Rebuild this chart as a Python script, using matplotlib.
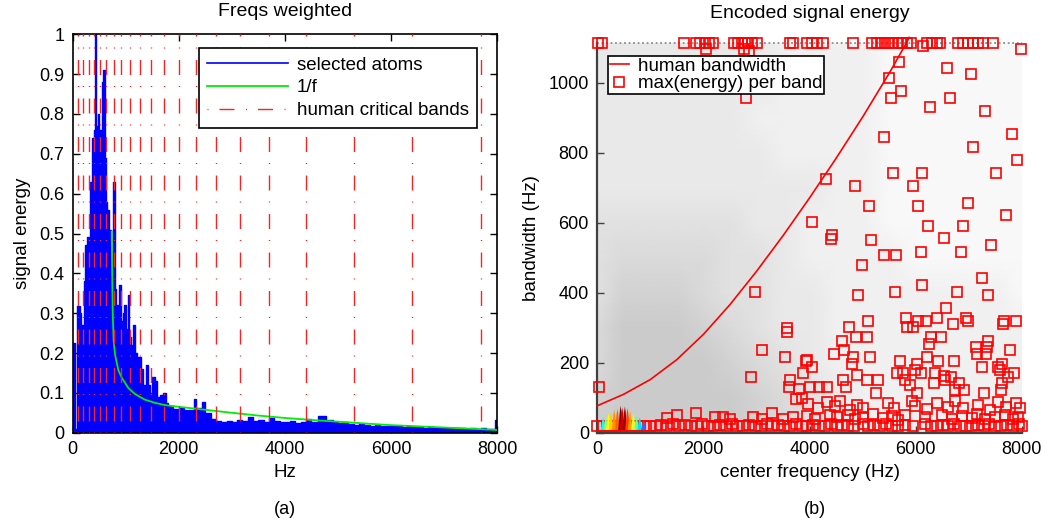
import matplotlib
matplotlib.use("Agg")
import matplotlib.pyplot as plt
from matplotlib.lines import Line2D

plt.rcParams['font.family'] = ['Liberation Sans', 'DejaVu Sans']
plt.rcParams['font.size'] = 13.5

# ---- left panel data: weighted frequency spectrum ----
spec_hz = [0, 35, 90, 130, 160, 205, 230, 270, 305, 330, 370, 405, 425, 445, 470,
           505, 545, 570, 600, 630, 655, 690, 725, 755, 790, 820, 855, 880, 905,
           940, 970, 1000, 1035, 1060, 1100, 1140, 1175, 1210, 1240, 1280, 1320,
           1380, 1420, 1460, 1500, 1550, 1590, 1640, 1700, 1750, 1800, 1900,
           2000, 2100, 2200, 2280, 2320, 2430, 2490, 2600, 2700, 2800, 2900, 3000,
           3100, 3200, 3300, 3400, 3500, 3600, 3700, 3800, 3900, 4000, 4100, 4200,
           4300, 4400, 4500, 4620, 4780, 4900, 5000, 5100, 5200, 5300, 5400, 5500,
           5600, 5700, 5800, 5900, 6000, 6100, 6200, 6300, 6400, 6500, 6600, 6700,
           6800, 6900, 7000, 7100, 7200, 7300, 7400, 7500, 7600, 7700, 7800, 7900,
           7970, 8000]
spec_val = [0.225, 0.01, 0.318, 0.30, 0.27, 0.38, 0.47, 0.49, 0.36, 0.63, 0.74, 0.76,
            1.0, 0.77, 0.80, 0.76, 0.88, 0.91, 0.69, 0.58, 0.56, 0.51, 0.43, 0.63,
            0.36, 0.32, 0.30, 0.37, 0.28, 0.30, 0.32, 0.26, 0.345, 0.24, 0.22, 0.27,
            0.20, 0.14, 0.19, 0.16, 0.12, 0.17, 0.12, 0.10, 0.14, 0.13, 0.09, 0.095,
            0.10, 0.075, 0.068, 0.06,
            0.062, 0.058, 0.056, 0.084, 0.062, 0.078, 0.05, 0.034, 0.03, 0.028, 0.03,
            0.027, 0.032, 0.03, 0.04, 0.03, 0.032, 0.028, 0.038, 0.03, 0.027, 0.026,
            0.03, 0.025, 0.028, 0.034, 0.028, 0.042, 0.033, 0.026, 0.024, 0.028,
            0.022, 0.02, 0.022, 0.02, 0.018, 0.02, 0.017, 0.018, 0.016, 0.018, 0.015,
            0.016, 0.014, 0.015, 0.013, 0.014, 0.012, 0.013, 0.012, 0.013, 0.011,
            0.012, 0.01, 0.011, 0.01, 0.011, 0.009, 0.01, 0.032, 0.032]

inv_f_hz = [735, 745, 755, 772, 800, 860, 925, 1050, 1175, 1360, 1550, 1750, 2000,
            2400, 3000, 3500, 4000, 4500, 5300, 6000, 7000, 8000]
inv_f_val = [0.505, 0.40, 0.30, 0.23, 0.195, 0.157, 0.138, 0.112, 0.097, 0.083, 0.075,
             0.069, 0.065, 0.059, 0.05, 0.043, 0.037, 0.032, 0.025, 0.019, 0.013, 0.007]

bark_edges = [100, 200, 300, 400, 510, 630, 770, 920, 1080, 1270, 1480, 1720, 2000,
              2320, 2700, 3150, 3700, 4400, 5300, 6400, 7700]

# ---- right panel data: encoded atoms ----
dens_f = [0, 500, 1000, 1500, 2000, 2500, 3000, 3500, 4000, 4500, 5000, 5500, 6000,
          6500, 7000, 7500, 8000]
dens_bw = [0, 100, 200, 300, 400, 500, 600, 700, 800, 900, 1000, 1114]
atom_density = [
    "77777765432222222",
    "67777765432222222",
    "57777654322222222",
    "57776543322222222",
    "46665443322222221",
    "45555443222211111",
    "44444433222111111",
    "33333333322111111",
    "33333332222111111",
    "33333322222111111",
    "33333332222111111",
    "33333332222111111",
]
top_atom_bw = 1114

hb_f = [0, 500, 1000, 1500, 2000, 2500, 3000, 3500, 4000, 4500, 5000, 5500, 5800, 5880]
hb_bw = [77, 110, 152, 209, 281, 366, 461, 563, 671, 784, 902, 1027, 1107, 1130]

top_sq_f = [19, 83, 1640, 1861, 1937, 2031, 2111, 2187, 2577, 2658, 2722, 2784, 2846,
            2911, 3005, 3632, 3695, 3947, 4041, 4136, 4260, 4826, 5172, 5267, 5348,
            5423, 5504, 5580, 5662, 5749, 5832, 5913, 6209, 6303, 6398, 6460, 6805,
            6899, 6993, 7088, 7182, 7276, 7465]

sq_f = [2050, 2765, 2866, 6145, 7987, 2803, 5693, 6597, 7038, 5504, 5719, 5531, 6648,
        6271, 7314, 7817, 5399, 7088, 7911, 5580, 6127, 7510, 4305, 4858, 5945, 5116,
        6040, 6988, 7704, 4041, 6240, 6899, 4418, 5159, 6535, 4405, 7421, 5410, 5631,
        6102, 6856, 4983, 7246, 6115, 4920, 5612, 6786, 7371, 6567, 5813, 5097, 6051,
        6190, 6409, 6950, 6993, 7660, 7887, 7647, 5844, 5957, 6711, 4739, 4877, 5078,
        6290, 6473, 4607, 7359, 6253, 7133, 4645, 7340, 7152, 7322, 7774, 4462, 4820,
        5135, 6209, 5712, 6428, 6724, 6020, 4795, 7246, 7623, 7559, 3947, 4041, 5989,
        6096, 5768, 5643, 4890, 6366, 6535, 6667, 7591, 7736, 7855, 5078, 5297, 4637,
        5800, 6353, 6554, 7623, 4688, 5894, 6824, 7610, 4009, 4179, 4324, 5254, 6020,
        6743, 6918, 7290, 2973, 3582, 3570, 3099, 3538, 2897, 38, 3934, 3884, 3632,
        3808, 3620, 3750, 3860]
sq_bw = [1096, 1097, 1090, 1106, 1098, 958, 1061, 1043, 1024, 1014, 977, 958, 958,
         930, 921, 854, 845, 817, 780, 742, 742, 742, 724, 705, 705, 649, 649, 658,
         621, 602, 592, 592, 565, 550, 558, 555, 536, 508, 508, 517, 517, 479, 441,
         422, 393, 403, 403, 393, 357, 329, 320, 320, 320, 329, 329, 319, 319, 320,
         310, 301, 301, 310, 301, 273, 273, 273, 273, 263, 263, 253, 244, 235, 244,
         226, 226, 235, 226, 216, 216, 216, 206, 206, 206, 197, 196, 188, 197, 188,
         207, 188, 179, 170, 170, 170, 165, 170, 163, 160, 179, 160, 170, 151, 151,
         151, 151, 141, 151, 141, 131, 136, 141, 122, 131, 131, 131, 113, 113, 122,
         122, 113, 403, 298, 289, 235, 216, 160, 131, 206, 170, 151, 125, 131, 95, 100]

low_sq_f = [3978, 4166, 4323, 4480, 4575, 4763, 4889, 5015, 5486, 5599, 5926, 5988,
            6208, 6397, 6617, 6742, 6899, 7182, 7402, 7559, 7704, 7886, 7967,
            3946, 4103, 4386, 4512, 4732, 4857, 5015, 5203, 5391, 5549, 5674, 5800,
            6177, 6491, 6679, 6868, 7056, 7151, 7308, 7496, 7685, 7842, 7936,
            1307, 1509, 1860, 2218, 2376, 2501, 2941, 3098, 3287, 3507, 3695]
low_sq_bw = [82, 70, 88, 75, 92, 66, 80, 72, 86, 70, 90, 76, 68, 84, 74, 92, 70, 80,
             66, 88, 74, 84, 70,
             48, 40, 52, 44, 50, 38, 46, 54, 42, 48, 36, 50, 44, 52, 40, 48, 42, 54,
             38, 46, 50, 40, 46,
             41, 50, 57, 45, 45, 40, 45, 40, 57, 40, 45]

floor_f = [0, 110, 220, 330, 440, 550, 660, 770, 880, 990, 1100, 1210, 1320, 1430,
           1540, 1650, 1760, 1870, 1980, 2090, 2200, 2310, 2420, 2530, 2640, 2750,
           2860, 2970, 3080, 3190, 3300, 3410, 3520, 3630, 3740, 3850, 3960, 4070,
           4180, 4290, 4400, 4510, 4620, 4730, 4840, 5000, 5110, 5220, 5330, 5440,
           5550, 5660, 5800, 5950, 6180, 6290, 6400, 6510, 6620, 6730, 6840, 6950,
           7060, 7170, 7280, 7390, 7500, 7610, 7720, 7830, 7940, 8000]
floor_bw = [19, 19, 19, 19, 19, 19, 19, 19, 19, 19, 19, 22, 19, 25, 19, 22, 19, 19,
            24, 19, 19, 22, 19, 24, 19, 19, 22, 19, 19, 24, 19, 22, 19, 19, 24, 20,
            19, 22, 19, 19, 24, 19, 22, 19, 19, 26, 19, 22, 19, 24, 19, 19, 22, 19,
            24, 19, 19, 22, 19, 24, 19, 20, 19, 22, 19, 24, 19, 19, 22, 19, 24, 19]

blob_f = [110, 160, 210, 260, 320, 380, 440, 470, 520, 570, 620, 680, 740, 800, 870]
blob_bw = [45, 50, 55, 60, 65, 68, 77, 72, 75, 70, 62, 55, 50, 45, 32]
blob_c = ['#00ffff', '#80ff80', '#ffff00', '#ffd000', '#ff9000', '#ff6000', '#800000',
          '#d00000', '#a00000', '#ff4000', '#ffa000', '#e0ff20', '#60ffa0', '#00e0ff',
          '#4060ff']

DASHDOT = (0, (0.72, 7.9, 10.8, 8.3))
W, H = 1046, 524

fig = plt.figure(figsize=(W / 100, H / 100), dpi=100)
ax1 = fig.add_axes([72.7 / W, (H - 432.7) / H, (497 - 72.7) / W, (432.7 - 34.3) / H])
ax2 = fig.add_axes([597.3 / W, (H - 432.7) / H, (1021.7 - 597.3) / W, (432.7 - 43) / H])

# ---- left ----
ax1.fill_between(spec_hz, spec_val, step='post', color='blue', lw=0, zorder=2)
ax1.step(spec_hz, spec_val, where='post', color='blue', lw=1, zorder=2)
ax1.plot(inv_f_hz, inv_f_val, color='#00ee00', lw=1.3, zorder=3)
ax1.vlines(bark_edges, 0, 1, colors='#ff2020', linestyles=[DASHDOT], lw=1, zorder=4)
ax1.set_xlim(0, 8000)
ax1.set_ylim(0, 1)
ax1.set_xticks([0, 2000, 4000, 6000, 8000])
ax1.set_yticks([i / 10 for i in range(11)])
ax1.set_yticklabels(['0', '0.1', '0.2', '0.3', '0.4', '0.5', '0.6', '0.7', '0.8', '0.9', '1'])
ax1.tick_params(direction='in', top=True, right=True, length=5, width=1, pad=6,
                labelsize=13)
for s in ax1.spines.values():
    s.set_linewidth(1.2)
ax1.set_title('Freqs weighted', fontsize=14, pad=13)
ax1.set_xlabel('Hz', labelpad=4)
ax1.set_ylabel('signal energy', labelpad=6)
handles1 = [Line2D([], [], color='blue', lw=1.2),
            Line2D([], [], color='#00ee00', lw=1.3),
            Line2D([], [], color='#ff2020', lw=1, linestyle=DASHDOT)]
leg1 = ax1.legend(handles1, ['selected atoms', '1/f', 'human critical bands'],
                  loc='upper left', bbox_to_anchor=(0.2977, 0.9656), borderaxespad=0,
                  fancybox=False, framealpha=1, edgecolor='black', handlelength=4.3,
                  handletextpad=0.45, labelspacing=0.3, borderpad=0.45)
leg1.get_frame().set_linewidth(1.2)

# ---- right ----
shades = [[int(ch) for ch in row] for row in atom_density]
ax2.pcolormesh(dens_f, dens_bw, shades, cmap='gray_r', vmin=0, vmax=34,
               shading='gouraud', zorder=0)
ax2.hlines(top_atom_bw, 0, 8000, colors='0.55', linestyles=[(0, (1, 1.5))], lw=1.3,
           clip_on=False, zorder=1)
ax2.plot(hb_f, hb_bw, color='red', lw=1.2, clip_on=False, zorder=3)
sq_style = dict(ls='none', marker='s', ms=7, mfc='none', mec='red', mew=1.2,
                clip_on=False, zorder=4)
ax2.plot(floor_f, floor_bw, **sq_style)
ax2.plot(low_sq_f, low_sq_bw, **sq_style)
ax2.plot(sq_f, sq_bw, **sq_style)
ax2.plot(top_sq_f, [1115] * len(top_sq_f), **sq_style)
# atom energy blobs sit on top of the floor squares
for f, h, c in zip(blob_f, blob_bw, blob_c):
    ax2.fill([f - 45, f - 15, f, f + 15, f + 45], [8, h * 0.8, h, h * 0.8, 8],
             color=c, lw=0, zorder=5)
ax2.set_xlim(0, 8000)
ax2.set_ylim(0, 1114)
ax2.set_xticks([0, 2000, 4000, 6000, 8000])
ax2.set_yticks([0, 200, 400, 600, 800, 1000])
ax2.spines['top'].set_visible(False)
ax2.spines['right'].set_visible(False)
for s in ('left', 'bottom'):
    ax2.spines[s].set_linewidth(1.6)
    ax2.spines[s].set_color('0.25')
ax2.tick_params(direction='in', length=5, width=1, pad=6, color='0.25', labelsize=13)
ax2.set_title('Encoded signal energy', fontsize=14, pad=18)
ax2.set_xlabel('center frequency (Hz)', labelpad=4)
ax2.set_ylabel('bandwidth (Hz)', labelpad=6)
handles2 = [Line2D([], [], color='red', lw=1.2),
            Line2D([], [], ls='none', marker='s', ms=7, mfc='none', mec='red', mew=1.2)]
leg2 = ax2.legend(handles2, ['human bandwidth', 'max(energy) per band'],
                  loc='upper left', bbox_to_anchor=(0.0252, 0.9667), borderaxespad=0,
                  fancybox=False, framealpha=1, edgecolor='black', handlelength=1.0,
                  handletextpad=0.5, labelspacing=0.0, borderpad=0.1)
leg2.get_frame().set_linewidth(1.2)

fig.text(285 / W, (H - 510) / H, '(a)', ha='center', va='center', fontsize=13)
fig.text(815 / W, (H - 510) / H, '(b)', ha='center', va='center', fontsize=13)

fig.savefig('out.png', dpi=100)
